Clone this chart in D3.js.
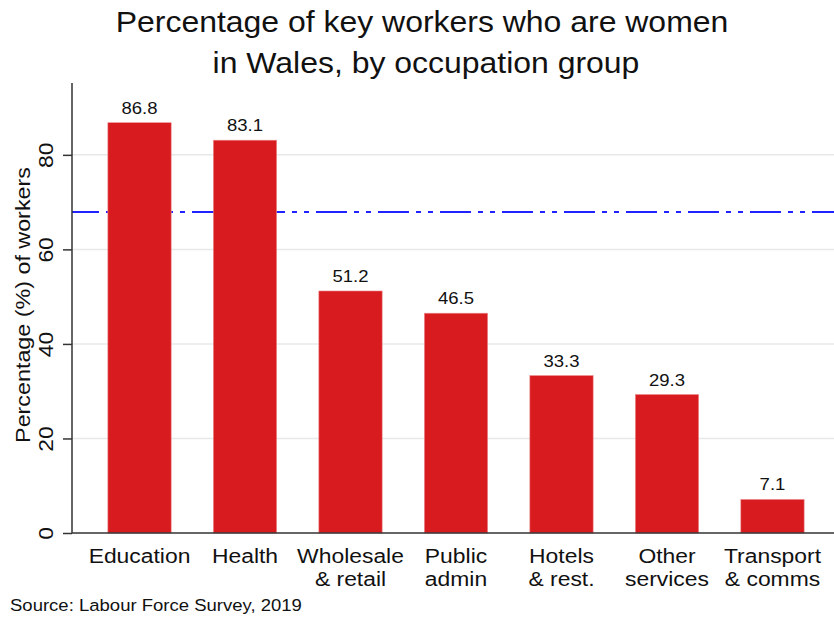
<!DOCTYPE html>
<html>
<head>
<meta charset="utf-8">
<script src="https://cdn.jsdelivr.net/npm/d3@7"></script>
<style>
  body { margin: 0; background: #fff; }
  svg text { font-family: Arial, 'Liberation Sans', sans-serif; fill: #111; }
</style>
</head>
<body>
<svg width="834" height="617"></svg>
<script>
(function (d3) {
  'use strict'

  const groups = ['Education', 'Health', 'Wholesale\n& retail', 'Public\nadmin',
    'Hotels\n& rest.', 'Other\nservices', 'Transport\n& comms']
  const women = [86.8, 83.1, 51.2, 46.5, 33.3, 29.3, 7.1]
  const yTicks = [0, 20, 40, 60, 80]
  const overall = 67.9

  const svg = d3.select('svg')
  const left = 72, right = 834, top = 83, bottom = 533

  const x = d3.scaleBand().domain(groups).range([left, 840])
    .paddingInner(0.4).paddingOuter(0.34)
  const y = d3.scaleLinear().domain([0, 95.2]).range([bottom, top])

  // the source font is a little wider than Arial, so stretch text sideways
  const wide = 'scale(1.09,1)'

  // title
  svg.append('text').attr('transform', 'translate(422,32) scale(1.065,1)')
    .attr('text-anchor', 'middle').style('font-size', '30px')
    .text('Percentage of key workers who are women')
  svg.append('text').attr('transform', 'translate(426,73) scale(1.065,1)')
    .attr('text-anchor', 'middle').style('font-size', '30px')
    .text('in Wales, by occupation group')

  // gridlines
  svg.append('g').selectAll('line').data(yTicks.filter(function (d) { return d > 0 }))
    .enter().append('line')
    .attr('x1', left).attr('x2', right)
    .attr('y1', function (d) { return y(d) }).attr('y2', function (d) { return y(d) })
    .attr('stroke', '#e8e8e8').attr('stroke-width', 1.5)

  // reference line
  svg.append('line')
    .attr('x1', left).attr('x2', right)
    .attr('y1', y(overall)).attr('y2', y(overall))
    .attr('stroke', '#2222ff').attr('stroke-width', 2)
    .attr('stroke-dasharray', '31,7,5,7,5,7').attr('stroke-dashoffset', 4)

  // bars
  svg.append('g').selectAll('rect').data(women).enter().append('rect')
    .attr('x', function (d, i) { return x(groups[i]) })
    .attr('width', x.bandwidth())
    .attr('y', function (d) { return y(d) })
    .attr('height', function (d) { return y(0) - y(d) })
    .attr('fill', '#d71b1f')
    .attr('stroke', '#ec8a8c').attr('stroke-width', 0.6)

  // value labels
  svg.append('g').selectAll('text').data(women).enter().append('text')
    .attr('transform', function (d, i) {
      return 'translate(' + (x(groups[i]) + x.bandwidth() / 2) + ',' + (y(d) - 9) + ') ' + wide
    })
    .attr('text-anchor', 'middle').style('font-size', '17px')
    .text(function (d) { return d.toFixed(1) })

  // y axis
  const yAxis = svg.append('g').attr('transform', 'translate(' + left + ',0)')
    .call(d3.axisLeft(y).tickValues(yTicks).tickSize(9).tickPadding(10))
  yAxis.select('.domain').attr('d', 'M0,' + top + 'V' + bottom).attr('stroke', '#333')
    .attr('stroke-width', 1.5)
  yAxis.selectAll('.tick line').attr('stroke', '#333').attr('stroke-width', 1.5)
  yAxis.selectAll('.tick text')
    .style('font-size', '21px').attr('fill', '#111')
    .attr('text-anchor', 'middle').attr('dy', '0')
    .attr('transform', 'translate(-19,0) rotate(-90) ' + wide)
    .attr('x', 0).attr('y', 0)

  svg.append('text')
    .attr('transform', 'translate(30,305) rotate(-90) scale(1.11,1)')
    .attr('text-anchor', 'middle').style('font-size', '21px')
    .text('Percentage (%) of workers')

  // x axis
  svg.append('line').attr('x1', left).attr('x2', right)
    .attr('y1', bottom).attr('y2', bottom)
    .attr('stroke', '#333').attr('stroke-width', 1.5)

  const xl = svg.append('g').selectAll('text').data(groups).enter().append('text')
    .attr('text-anchor', 'middle').style('font-size', '21px')
    .attr('transform', function (d) {
      return 'translate(' + (x(d) + x.bandwidth() / 2) + ',563) ' + wide
    })
  xl.selectAll('tspan').data(function (d) { return d.split('\n') }).enter()
    .append('tspan').attr('x', 0).attr('y', function (d, i) { return i * 23 })
    .text(function (d) { return d })

  svg.append('text').attr('transform', 'translate(10,611) ' + wide)
    .style('font-size', '17px')
    .text('Source: Labour Force Survey, 2019')
}(d3))
</script>
</body>
</html>
